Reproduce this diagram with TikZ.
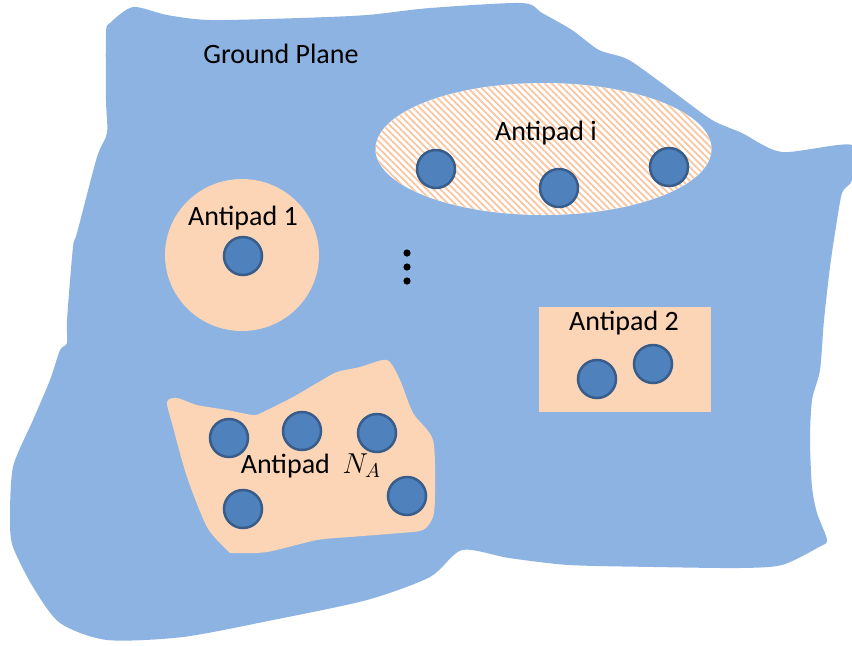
\documentclass[tikz,border=0pt]{standalone}
\usepackage{fontspec}
\setmainfont{Carlito}
\usetikzlibrary{patterns.meta}
\definecolor{gblue}{RGB}{141,179,226}
\definecolor{peach}{RGB}{251,213,181}
\definecolor{stripe}{RGB}{249,198,162}
\definecolor{viafill}{RGB}{79,129,189}
\definecolor{viaedge}{RGB}{56,93,138}
\tikzset{
  via/.style={circle, fill=viafill, draw=viaedge, line width=1.25pt, minimum size=19pt, inner sep=0pt},
  lbl/.style={anchor=base, inner sep=0pt, font=\fontsize{14}{16}\selectfont},
  dotmark/.style={circle, fill=black, minimum size=3.6pt, inner sep=0pt},
}
\begin{document}
\begin{tikzpicture}[x=0.5pt, y=-0.5pt]
\useasboundingbox (0,0) rectangle (852,645);
% ground plane
\fill[gblue] plot[smooth cycle, tension=0.45] coordinates {
(133,7) (167,15) (210,20) (300,18) (367,15) (430,8) (522,3) (542,13) (572,30) (599,50) (629,60) (675,93) (712,120) (742,133) (782,152) (852,145) (852,180) (842,193) (835,233) (830,267) (824,320) (820,370) (812,400) (810,440) (812,487) (817,513) (827,540) (819,547) (782,565) (739,568) (655,567) (569,565) (509,558) (462,550) (430,577) (367,600) (273,620) (183,637) (107,640) (60,623) (33,587) (13,547) (10,520) (13,467) (33,420) (50,380) (60,350) (67,343) (67,320) (73,247) (77,233) (97,157) (107,133) (106,100) (106,33) (110,23)};
% antipad i (hatched ellipse)
\fill[white] (543.5,149) ellipse [x radius=84pt, y radius=33pt];
\fill[pattern={Lines[angle=-45, distance=2.4pt, line width=0.9pt]}, pattern color=stripe] (543.5,149) ellipse [x radius=84pt, y radius=33pt];
% antipad 1
\fill[peach] (242,255) ellipse [x radius=38.5pt, y radius=38pt];
% antipad 2
\fill[peach] (539,307) rectangle (711,412);
% antipad N_A
\fill[peach] plot[smooth cycle, tension=0.45] coordinates {
(167,402) (177,398) (197,405) (227,410) (253,415) (263,412) (293,397) (317,383) (337,372) (360,367) (387,360) (400,380) (413,413) (433,440) (435,493) (433,517) (423,530) (400,533) (350,537) (317,540) (267,552) (233,553) (227,550) (207,527) (187,477) (173,427)};
% labels
\node[lbl] (gp) at (281,63) {Ground Plane};
\node[lbl] (li) at (546,140) {Antipad i};
\node[lbl] (l1) at (243,225) {Antipad 1};
\node[lbl] (l2) at (624,330) {Antipad 2};
\node[lbl] (ln) at (311,473) {Antipad \ $N_A$};
% vias
\node[via] (v1a) at (243,256) {};
\node[via] (via1) at (436,169) {};
\node[via] (via2) at (559,188) {};
\node[via] (via3) at (669,167) {};
\node[via] (v2a) at (597,379) {};
\node[via] (v2b) at (653,364) {};
\node[via] (vn1) at (229,438) {};
\node[via] (vn2) at (302,431) {};
\node[via] (vn3) at (377,433) {};
\node[via] (vn4) at (243,509) {};
\node[via] (vn5) at (407,496) {};
% dots
\node[dotmark] (d1) at (407,253) {};
\node[dotmark] (d2) at (407,267) {};
\node[dotmark] (d3) at (407,281) {};
\end{tikzpicture}
\end{document}
